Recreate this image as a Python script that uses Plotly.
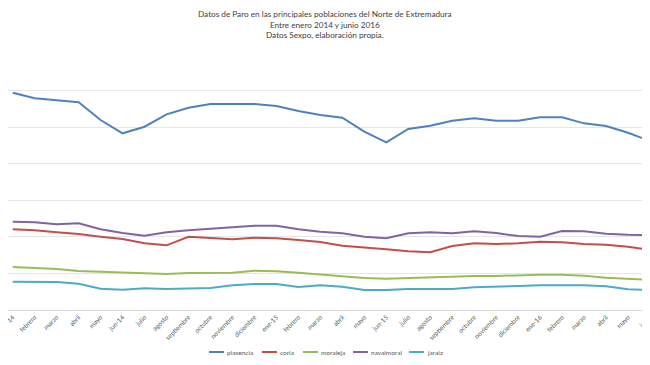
import plotly.graph_objects as go

months = ["ene-14", "febrero", "marzo", "abril", "mayo", "jun-14", "julio", "agosto",
          "septiembre", "octubre", "noviembre", "diciembre", "ene-15", "febrero", "marzo",
          "abril", "mayo", "jun-15", "julio", "agosto", "septiembre", "octubre",
          "noviembre", "diciembre", "ene-16", "febrero", "marzo", "abril", "mayo", "junio"]

plasencia = [5941, 5788, 5733, 5679, 5195, 4831, 5011, 5350, 5531, 5632, 5632, 5632, 5577,
             5441, 5331, 5258, 4875, 4585, 4949, 5039, 5176, 5241, 5176, 5176, 5268, 5268,
             5104, 5031, 4847, 4620]
coria = [2206, 2179, 2124, 2078, 2004, 1941, 1824, 1769, 2004, 1960, 1933, 1977, 1960, 1914,
         1859, 1758, 1714, 1660, 1605, 1578, 1750, 1824, 1804, 1824, 1867, 1851, 1804, 1785,
         1731, 1640]
moraleja = [1176, 1148, 1121, 1066, 1047, 1020, 992, 984, 1012, 1020, 1020, 1074, 1058, 1020,
            965, 910, 875, 856, 875, 883, 910, 930, 930, 949, 965, 965, 938, 883, 856, 820]
navalmoral = [2414, 2398, 2343, 2370, 2206, 2105, 2031, 2124, 2179, 2223, 2250, 2305, 2305,
              2206, 2141, 2097, 2004, 1960, 2097, 2124, 2097, 2152, 2105, 2023, 2004, 2160,
              2152, 2086, 2059, 2051]
jaraiz = [774, 766, 766, 719, 582, 555, 593, 574, 582, 601, 675, 711, 711, 629, 675, 637, 547,
          547, 574, 582, 574, 621, 629, 656, 675, 675, 675, 648, 566, 547]

series = [("plasencia", plasencia, "#4F81BD"),
          ("coria", coria, "#C0504D"),
          ("moraleja", moraleja, "#9BBB59"),
          ("navalmoral", navalmoral, "#8064A2"),
          ("jaraiz", jaraiz, "#4BACC6")]

title_lines = ["Datos de Paro en las principales poblaciones del Norte de Extremadura",
               "Entre enero 2014 y junio 2016",
               "Datos Sexpo, elaboración propia."]

x = list(range(len(months)))
FONT = "Lato, Liberation Sans, Arial, sans-serif"
# page body has an 8px margin: the figure is sized to fit the window exactly
W, H = 642, 357
T, B = 46, 55
PH = H - T - B
PB = H - B  # plot bottom in figure px

fig = go.Figure()
for name, vals, col in series:
    fig.add_trace(go.Scatter(x=x, y=vals, name=name, mode="lines",
                             line=dict(color=col, width=2), showlegend=False))

# Title
fig.add_annotation(text="<br>".join(title_lines), xref="paper", yref="paper",
                   x=(325 - 8) / W, xanchor="center", y=(PB - 16.3) / PH, yanchor="middle",
                   showarrow=False, align="center",
                   font=dict(family=FONT, size=8.2, color="#404040"))

# Legend (compact, Excel style)
cursor = 201.0
ly = -(344 - PB) / PH
for name, vals, col in series:
    fig.add_shape(type="line", xref="paper", yref="paper",
                  x0=cursor / W, x1=(cursor + 15) / W, y0=ly, y1=ly,
                  line=dict(color=col, width=2))
    fig.add_annotation(text=name, xref="paper", yref="paper", x=(cursor + 16) / W,
                       xanchor="left", y=ly, yanchor="middle", showarrow=False,
                       font=dict(family=FONT, size=6.5, color="#595959"))
    cursor += 15 + 1 + len(name) * 3.0 + 10

fig.update_layout(
    width=W, height=H,
    paper_bgcolor="white", plot_bgcolor="white",
    margin=dict(l=0, r=0, t=T, b=B),
    font=dict(family=FONT, color="#595959", size=6.5),
    showlegend=False,
)
fig.update_xaxes(range=[-0.2136, 29.0], tickmode="array", tickvals=x, ticktext=months,
                 tickangle=-45, showgrid=False, showline=True, linecolor="#D9D9D9",
                 linewidth=1, ticks="", zeroline=False, automargin=False,
                 ticklabeloverflow="allow",
                 tickfont=dict(size=6.5, color="#595959"))
fig.update_yaxes(range=[0, 7000], dtick=1000, showticklabels=False, showgrid=True,
                 gridcolor="#E6E6E6", gridwidth=1, zeroline=False, showline=False,
                 automargin=False)

fig.write_html("out.html")
